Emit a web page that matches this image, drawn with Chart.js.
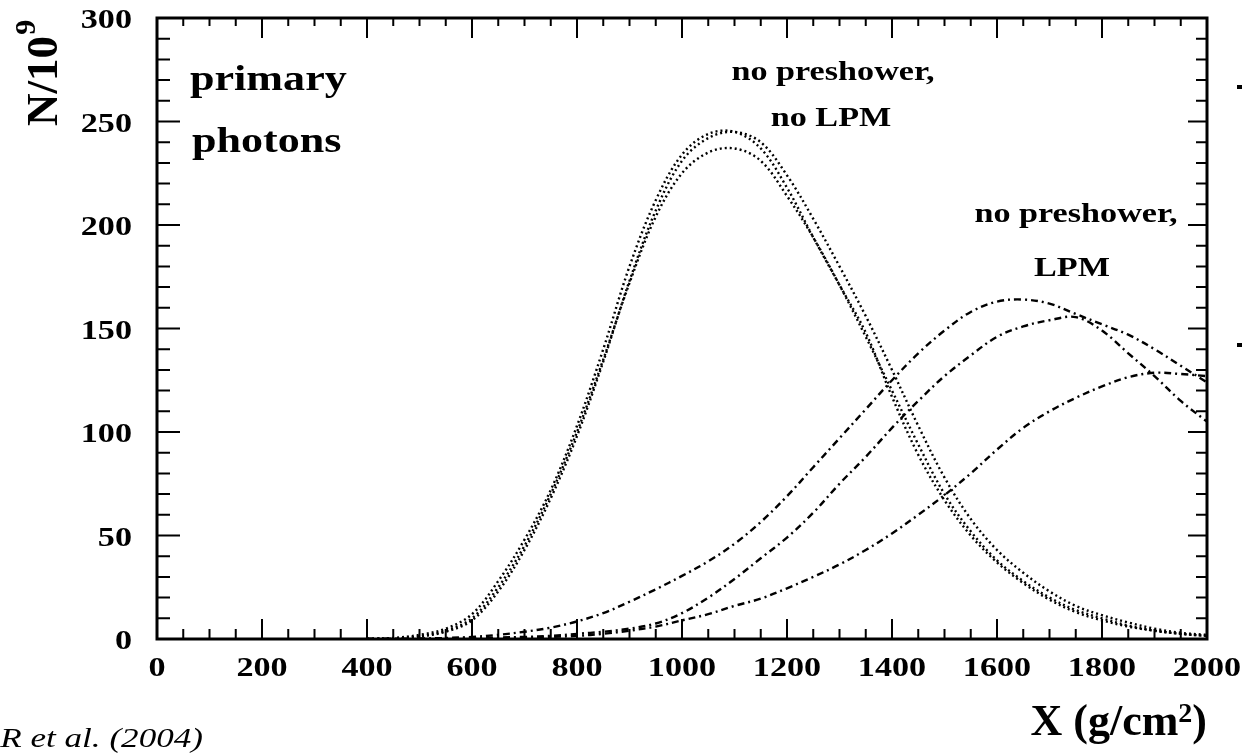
<!DOCTYPE html>
<html>
<head>
<meta charset="utf-8">
<title>primary photons</title>
<script src="https://cdn.jsdelivr.net/npm/chart.js@4.4.1/dist/chart.umd.min.js"></script>
<style>
  html, body { margin: 0; padding: 0; background: #fff; }
  #wrap { width: 1242px; height: 755px; position: relative; }
  .warm { position: absolute; left: -999px; top: 0; font-family: "Liberation Serif"; }
</style>
</head>
<body>
<div id="wrap"><canvas id="profile" width="1242" height="755"></canvas></div>
<span class="warm" style="font-weight:bold">0</span>
<span class="warm" style="font-style:italic">0</span>
<script>
// slant depth X (g/cm^2) where the profiles are sampled
const depth = [400, 450, 500, 550, 600, 650, 700, 750, 800, 850, 900, 950, 1000,
  1050, 1100, 1150, 1200, 1250, 1300, 1350, 1400, 1450, 1500, 1550, 1600, 1650,
  1700, 1750, 1800, 1850, 1900, 1950, 2000];

// N/10^9, no preshower, no LPM (three showers)
const noLpmA = [0, 0.5, 2, 5, 12, 28, 48, 72, 103, 140, 180, 212, 234, 244, 245, 237,
  218, 194, 171, 148, 117, 89, 67, 50, 37, 27, 19, 13, 9, 6, 4, 2.5, 1.5];
const noLpmB = [0, 0.3, 1.2, 3.5, 9, 23, 43, 68, 98, 134, 173, 207, 231, 242, 245, 240,
  224, 203, 180, 156, 130, 103, 78, 58, 43, 32, 23, 16, 11.5, 8, 5, 3, 2];
const noLpmC = [0, 0.3, 1.3, 4, 10, 25, 45, 70, 100, 135, 172, 204, 225, 235, 237, 231,
  214, 194, 171, 146, 120, 94, 70, 52, 38, 28, 20, 14, 10, 6.5, 4, 2.5, 1.5];

// N/10^9, no preshower, LPM (three showers)
const lpmA = [0, 0, 0.2, 0.5, 1, 2, 3.5, 5.5, 8.5, 12.5, 18, 24, 30.5, 37.5, 46, 56.5,
  69, 83, 97, 111, 125, 138, 149, 158, 163, 164, 162, 157, 152, 147, 140, 132, 124];
const lpmB = [0, 0, 0, 0.2, 0.4, 0.7, 1, 1.5, 2.5, 3.5, 5, 7.5, 12.5, 20, 29, 39,
  49, 61, 75, 88, 102, 115, 127, 137, 146, 151, 154, 155.5, 149, 138, 127, 115, 105];
const lpmC = [0, 0, 0, 0, 0.2, 0.4, 0.7, 1, 1.5, 2.5, 4, 6, 9, 12, 16, 19.5,
  24.5, 30, 36, 43, 51, 60, 69.5, 80, 91.5, 102, 110, 116.5, 122, 126.5, 128.6, 128, 127];

const xStep = 200, xMinorStep = 50;
const yStep = 50, yMinorStep = 10;

const serif = '"Liberation Serif", "Times New Roman", serif';
const DOTTED = [2, 3];
const DASH_DOT = [7, 4, 2, 4];

function points(values) {
  return depth.map((x, i) => ({ x: x, y: values[i] }));
}

function curve(values, dash) {
  return {
    data: points(values),
    borderColor: '#000',
    borderWidth: 2.4,
    borderDash: dash,
    pointRadius: 0,
    fill: false,
    tension: 0.35
  };
}

// text widened along its own baseline
function wideText(ctx, str, px, py, font, align, sx) {
  ctx.save();
  ctx.font = font;
  ctx.textAlign = align;
  ctx.textBaseline = 'alphabetic';
  ctx.translate(px, py);
  ctx.scale(sx, 1);
  ctx.fillText(str, 0, 0);
  ctx.restore();
}

// frame with inward ticks on all sides, tick labels and the text on the plot
const framePlugin = {
  id: 'frame',
  afterDraw(chart) {
    const { ctx, chartArea: a } = chart;
    const xs = chart.scales.x, ys = chart.scales.y;
    ctx.save();
    ctx.strokeStyle = '#000';
    ctx.fillStyle = '#000';

    ctx.lineWidth = 2;
    ctx.beginPath();
    for (let v = xs.min; v <= xs.max; v += xMinorStep) {
      const px = xs.getPixelForValue(v);
      const major = v % xStep === 0;
      ctx.moveTo(px, a.bottom);
      ctx.lineTo(px, a.bottom - (major ? 20 : 10));
      ctx.moveTo(px, a.top);
      ctx.lineTo(px, a.top + (major ? 20 : 8));
    }
    for (let v = ys.min; v <= ys.max; v += yMinorStep) {
      const py = ys.getPixelForValue(v);
      const major = v % yStep === 0;
      ctx.moveTo(a.left, py);
      ctx.lineTo(a.left + (major ? 23 : 13), py);
      ctx.moveTo(a.right, py);
      ctx.lineTo(a.right - (major ? 19 : 11), py);
    }
    ctx.stroke();

    ctx.lineWidth = 3;
    ctx.strokeRect(a.left, a.top, a.right - a.left, a.bottom - a.top);

    const tickFont = 'bold 28px ' + serif;
    xs.ticks.forEach(t => {
      wideText(ctx, String(t.value), xs.getPixelForValue(t.value), a.bottom + 37, tickFont, 'center', 1.22);
    });
    ys.ticks.forEach(t => {
      wideText(ctx, String(t.value), a.left - 25, ys.getPixelForValue(t.value) + 10, tickFont, 'right', 1.22);
    });

    // y axis title N/10^9
    ctx.save();
    ctx.translate(57, 126);
    ctx.rotate(-Math.PI / 2);
    ctx.scale(1.25, 1.25);
    ctx.font = 'bold 36px ' + serif;
    ctx.textAlign = 'left';
    ctx.textBaseline = 'alphabetic';
    ctx.fillText('N/10', 0, 0);
    const nw = ctx.measureText('N/10').width;
    ctx.font = 'bold 24px ' + serif;
    ctx.fillText('9', nw + 1, -18);
    ctx.restore();

    // x axis title X (g/cm^2), right aligned to the frame
    const big = 'bold 44px ' + serif, sup = 'bold 28px ' + serif;
    ctx.font = big;
    const w1 = ctx.measureText('X (g/cm').width;
    const w3 = ctx.measureText(')').width;
    ctx.font = sup;
    const w2 = ctx.measureText('2').width;
    const tx = a.right - (w1 + w2 + w3);
    wideText(ctx, 'X (g/cm', tx, 735, big, 'left', 1);
    wideText(ctx, '2', tx + w1, 722, sup, 'left', 1);
    wideText(ctx, ')', tx + w1 + w2, 735, big, 'left', 1);

    // labels inside the frame
    const lab = 'bold 35px ' + serif, note = 'bold 28px ' + serif;
    wideText(ctx, 'primary', 190, 90, lab, 'left', 1.26);
    wideText(ctx, 'photons', 192, 152, lab, 'left', 1.26);
    wideText(ctx, 'no preshower,', 833, 80, note, 'center', 1.22);
    wideText(ctx, 'no LPM', 831, 126, note, 'center', 1.22);
    wideText(ctx, 'no preshower,', 1076, 222, note, 'center', 1.22);
    wideText(ctx, 'LPM', 1072, 276, note, 'center', 1.22);

    wideText(ctx, 'R et al. (2004)', 203, 747, 'italic 27px ' + serif, 'right', 1.3);

    ctx.fillRect(1237, 85, 5, 4);
    ctx.fillRect(1237, 343, 5, 4);
    ctx.restore();
  }
};

function drawChart() {
  new Chart(document.getElementById('profile'), {
    type: 'line',
    data: {
      datasets: [
        curve(noLpmA, DOTTED),
        curve(noLpmB, DOTTED),
        curve(noLpmC, DOTTED),
        curve(lpmA, DASH_DOT),
        curve(lpmB, DASH_DOT),
        curve(lpmC, DASH_DOT)
      ]
    },
    options: {
      responsive: false,
      animation: false,
      devicePixelRatio: 1,
      layout: { padding: { top: 18, right: 35, left: 0, bottom: 0 } },
      plugins: { legend: { display: false }, tooltip: { enabled: false } },
      scales: {
        x: {
          type: 'linear', min: 0, max: 2000,
          ticks: { stepSize: xStep, display: false },
          grid: { display: false, drawTicks: false },
          border: { display: false },
          afterFit(s) { s.height = 116; }
        },
        y: {
          min: 0, max: 300,
          ticks: { stepSize: yStep, display: false },
          grid: { display: false, drawTicks: false },
          border: { display: false },
          afterFit(s) { s.width = 157; }
        }
      }
    },
    plugins: [framePlugin]
  });
}

Promise.all([
  document.fonts.load('bold 28px "Liberation Serif"'),
  document.fonts.load('italic 27px "Liberation Serif"')
]).then(drawChart, drawChart);
</script>
</body>
</html>
